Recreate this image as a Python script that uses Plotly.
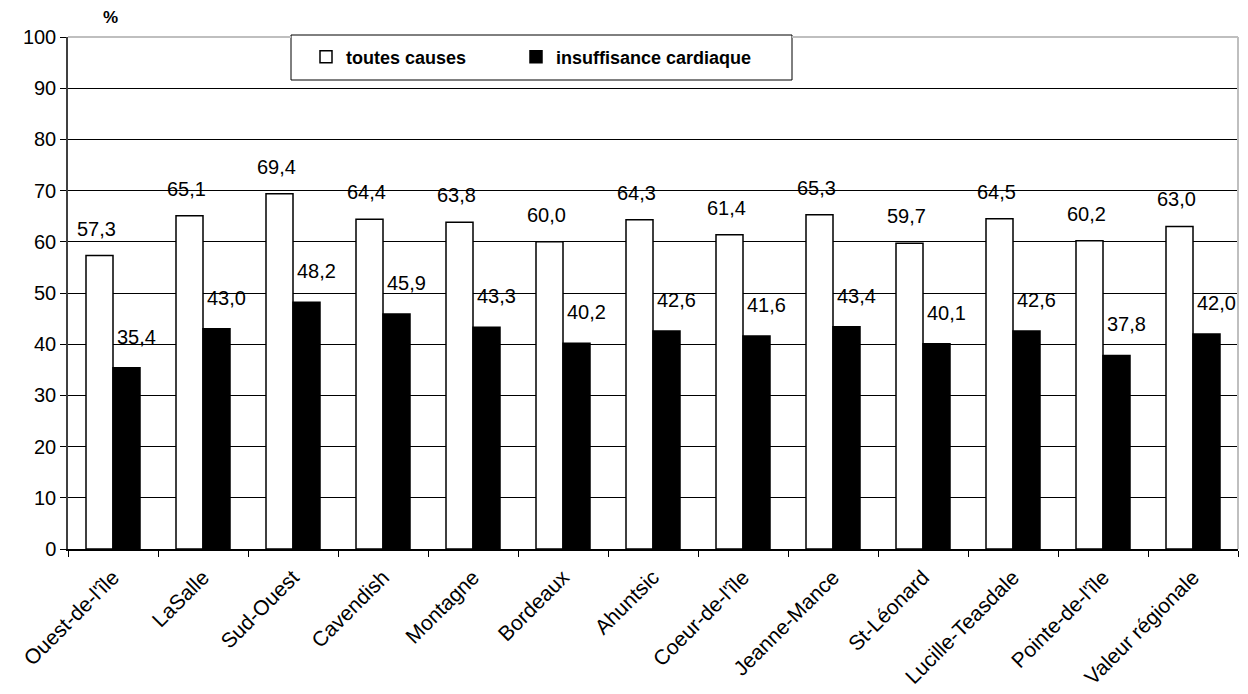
import plotly.graph_objects as go

categories = ["Ouest-de-l'île", "LaSalle", "Sud-Ouest", "Cavendish", "Montagne", "Bordeaux",
              "Ahuntsic", "Coeur-de-l'île", "Jeanne-Mance", "St-Léonard", "Lucille-Teasdale",
              "Pointe-de-l'île", "Valeur régionale"]
toutes_causes = [57.3, 65.1, 69.4, 64.4, 63.8, 60.0, 64.3, 61.4, 65.3, 59.7, 64.5, 60.2, 63.0]
insuffisance = [35.4, 43.0, 48.2, 45.9, 43.3, 40.2, 42.6, 41.6, 43.4, 40.1, 42.6, 37.8, 42.0]
series_names = ["toutes causes", "insuffisance cardiaque"]
y_ticks = [0, 10, 20, 30, 40, 50, 60, 70, 80, 90, 100]

FONT = "Liberation Sans, Arial, sans-serif"

fig = go.Figure()
fig.add_trace(go.Bar(x=categories, y=toutes_causes, name=series_names[0], legend="legend",
                     marker=dict(color="white", line=dict(color="black", width=1.5))))
fig.add_trace(go.Bar(x=categories, y=insuffisance, name=series_names[1], legend="legend2",
                     marker=dict(color="black", line=dict(color="black", width=1.5))))

def fmt(v):
    return f"{v:.1f}".replace(".", ",")

for c, v in zip(categories, toutes_causes):
    fig.add_annotation(x=c, y=v, text=fmt(v), showarrow=False, xshift=-17, yshift=27,
                       yanchor="middle", xanchor="center",
                       font=dict(family=FONT, size=20, color="black"))
for c, v in zip(categories, insuffisance):
    fig.add_annotation(x=c, y=v, text=fmt(v), showarrow=False, xshift=23, yshift=31,
                       yanchor="middle", xanchor="center",
                       font=dict(family=FONT, size=20, color="black"))

fig.add_annotation(xref="paper", yref="paper", x=(110 - 68) / 1170, y=(549 - 17) / 512,
                   text="<b>%</b>", showarrow=False, xanchor="center", yanchor="middle",
                   font=dict(family=FONT, size=17, color="black"))

bx0 = (291 - 68) / 1170
bx1 = (792 - 68) / 1170
# legend box
fig.add_shape(type="rect", xref="paper", yref="paper",
              x0=bx0, x1=bx1, y0=(549 - 80) / 512, y1=(549 - 35) / 512,
              fillcolor="white", line=dict(color="black", width=1), layer="below")
# gray top and right border of plot area
fig.add_shape(type="line", xref="paper", yref="paper", x0=0, x1=bx0, y0=1, y1=1,
              line=dict(color="#bfbfbf", width=2), layer="above")
fig.add_shape(type="line", xref="paper", yref="paper", x0=bx1, x1=1, y0=1, y1=1,
              line=dict(color="#bfbfbf", width=2), layer="above")
fig.add_shape(type="line", xref="paper", yref="paper", x0=1, x1=1, y0=0, y1=1,
              line=dict(color="#bfbfbf", width=2), layer="above")

legend_style = dict(orientation="h", xanchor="left", yanchor="middle",
                    bgcolor="rgba(0,0,0,0)", borderwidth=0,
                    font=dict(family=FONT, size=18, color="black", weight="bold"))

fig.update_layout(
    width=1248, height=694,
    margin=dict(l=68, r=10, t=37, b=145),
    paper_bgcolor="white", plot_bgcolor="white",
    barmode="group", bargap=0.4, bargroupgap=0,
    font=dict(family=FONT, size=20, color="black"),
    showlegend=True,
    legend=dict(x=(306 - 68) / 1170, y=(549 - 57) / 512, **legend_style),
    legend2=dict(x=(516 - 68) / 1170, y=(549 - 57) / 512, **legend_style),
    xaxis=dict(tickangle=-45, showline=True, linecolor="black", linewidth=1.5,
               ticks="outside", ticklen=6, tickcolor="black", tickson="boundaries",
               ticklabelstandoff=6, automargin=False,
               tickfont=dict(family=FONT, size=21, color="black"), showgrid=False),
    yaxis=dict(range=[0, 100], tickvals=y_ticks, showline=True, linecolor="#404040",
               linewidth=1.5, ticks="outside", ticklen=6, tickcolor="black",
               showgrid=True, gridcolor="black", gridwidth=1, zeroline=False,
               automargin=False,
               tickfont=dict(family=FONT, size=20, color="black")),
)

fig.write_html("out.html", config={"displayModeBar": False},
               post_script="document.body.style.margin='0';")
